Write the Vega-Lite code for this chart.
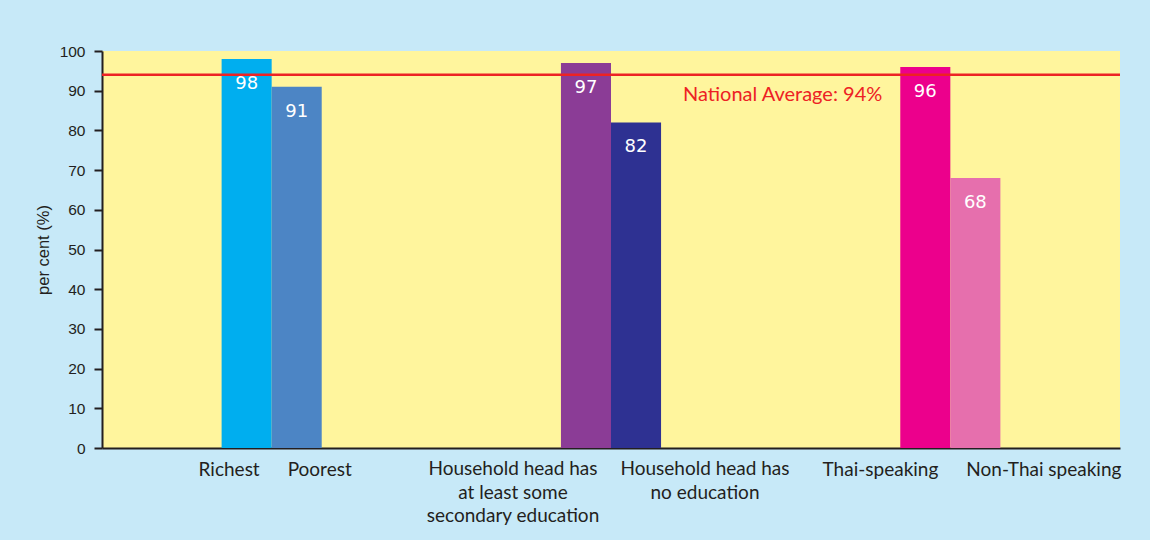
{
  "$schema": "https://vega.github.io/schema/vega-lite/v6.json",
  "width": 1018,
  "height": 397,
  "autosize": "none",
  "padding": {"left": 102, "top": 51, "right": 30, "bottom": 92},
  "background": "#c7e9f8",
  "config": {
    "view": {"fill": "#fff59d", "stroke": null},
    "axisX": {"labels": false, "ticks": false, "domainColor": "#231f20", "domainWidth": 2},
    "axisY": {"tickCount": 10, "grid": false, "titleFont": "Liberation Sans", "titleFontSize": 16.5, "titleFontWeight": "normal", "titleColor": "#231f20", "titlePadding": 8, "labelFont": "Liberation Sans", "labelFontSize": 15.5, "labelColor": "#231f20", "labelPadding": 9, "tickSize": 8, "tickWidth": 2, "tickColor": "#231f20", "domainColor": "#231f20", "domainWidth": 2}
  },
  "datasets": {
    "bars": [
      {"group": "Wealth", "sub": "A", "label": "Richest", "value": 98},
      {"group": "Wealth", "sub": "B", "label": "Poorest", "value": 91},
      {"group": "Education", "sub": "A", "label": "Household head has|at least some|secondary education", "value": 97},
      {"group": "Education", "sub": "B", "label": "Household head has|no education", "value": 82},
      {"group": "Language", "sub": "A", "label": "Thai-speaking", "value": 96},
      {"group": "Language", "sub": "B", "label": "Non-Thai speaking", "value": 68}
    ],
    "avg": [
      {"group": "Education", "label": "National Average: 94%", "value": 94}
    ]
  },
  "data": {"name": "bars"},
  "layer": [
    {
      "mark": {"type": "bar"},
      "encoding": {
        "x": {
          "field": "group", "type": "nominal",
          "sort": ["Wealth", "Education", "Language"],
          "scale": {"paddingInner": 0.705, "paddingOuter": 0.3525},
          "axis": {"title": null}
        },
        "xOffset": {
          "field": "sub", "type": "nominal",
          "scale": {"paddingInner": 0, "paddingOuter": 0}
        },
        "y": {
          "field": "value", "type": "quantitative",
          "scale": {"domain": [0, 100], "nice": false},
          "axis": {"title": "per cent (%)"}
        },
        "color": {
          "field": "label", "type": "nominal", "legend": null,
          "scale": {
            "domain": ["Richest", "Poorest", "Household head has|at least some|secondary education", "Household head has|no education", "Thai-speaking", "Non-Thai speaking"],
            "range": ["#00aeef", "#4c85c5", "#8b3c96", "#2e3192", "#ec008c", "#e66fad"]
          }
        }
      }
    },
    {
      "mark": {"type": "text", "color": "white", "font": "DejaVu Sans", "fontSize": 18, "baseline": "middle", "dy": 25},
      "encoding": {
        "x": {"field": "group", "type": "nominal", "sort": ["Wealth", "Education", "Language"]},
        "xOffset": {"field": "sub", "type": "nominal"},
        "y": {"field": "value", "type": "quantitative"},
        "text": {"field": "value", "type": "quantitative"}
      }
    },
    {
      "data": {"name": "avg"},
      "mark": {"type": "rule", "color": "#ed2224", "strokeWidth": 2.5},
      "encoding": {"y": {"field": "value", "type": "quantitative"}}
    },
    {
      "data": {"name": "avg"},
      "mark": {"type": "text", "color": "#ed2224", "font": "Lato", "fontSize": 20, "align": "left", "baseline": "middle", "dx": 72, "dy": 20},
      "encoding": {
        "x": {"field": "group", "type": "nominal", "sort": ["Wealth", "Education", "Language"]},
        "y": {"field": "value", "type": "quantitative"},
        "text": {"field": "label"}
      }
    },
    {
      "transform": [{"filter": "datum.sub == 'A' && indexof(datum.label, '|') < 0"}],
      "mark": {"type": "text", "color": "#231f20", "font": "Lato", "fontSize": 19, "align": "right", "baseline": "top", "dx": -12, "dy": 13, "lineBreak": "|", "lineHeight": 23.5},
      "encoding": {
        "x": {"field": "group", "type": "nominal", "sort": ["Wealth", "Education", "Language"]},
        "y": {"datum": 0, "type": "quantitative"},
        "text": {"field": "label"}
      }
    },
    {
      "transform": [{"filter": "datum.sub == 'B' && indexof(datum.label, '|') < 0"}],
      "mark": {"type": "text", "color": "#231f20", "font": "Lato", "fontSize": 19, "align": "left", "baseline": "top", "dx": 16, "dy": 13, "lineBreak": "|", "lineHeight": 23.5},
      "encoding": {
        "x": {"field": "group", "type": "nominal", "sort": ["Wealth", "Education", "Language"]},
        "y": {"datum": 0, "type": "quantitative"},
        "text": {"field": "label"}
      }
    },
    {
      "transform": [{"filter": "datum.sub == 'A' && indexof(datum.label, '|') >= 0"}],
      "mark": {"type": "text", "color": "#231f20", "font": "Lato", "fontSize": 19, "align": "center", "baseline": "top", "dx": -98, "dy": 12, "lineBreak": "|", "lineHeight": 23.5},
      "encoding": {
        "x": {"field": "group", "type": "nominal", "sort": ["Wealth", "Education", "Language"]},
        "y": {"datum": 0, "type": "quantitative"},
        "text": {"field": "label"}
      }
    },
    {
      "transform": [{"filter": "datum.sub == 'B' && indexof(datum.label, '|') >= 0"}],
      "mark": {"type": "text", "color": "#231f20", "font": "Lato", "fontSize": 19, "align": "center", "baseline": "top", "dx": 94, "dy": 12, "lineBreak": "|", "lineHeight": 23.5},
      "encoding": {
        "x": {"field": "group", "type": "nominal", "sort": ["Wealth", "Education", "Language"]},
        "y": {"datum": 0, "type": "quantitative"},
        "text": {"field": "label"}
      }
    }
  ]
}
